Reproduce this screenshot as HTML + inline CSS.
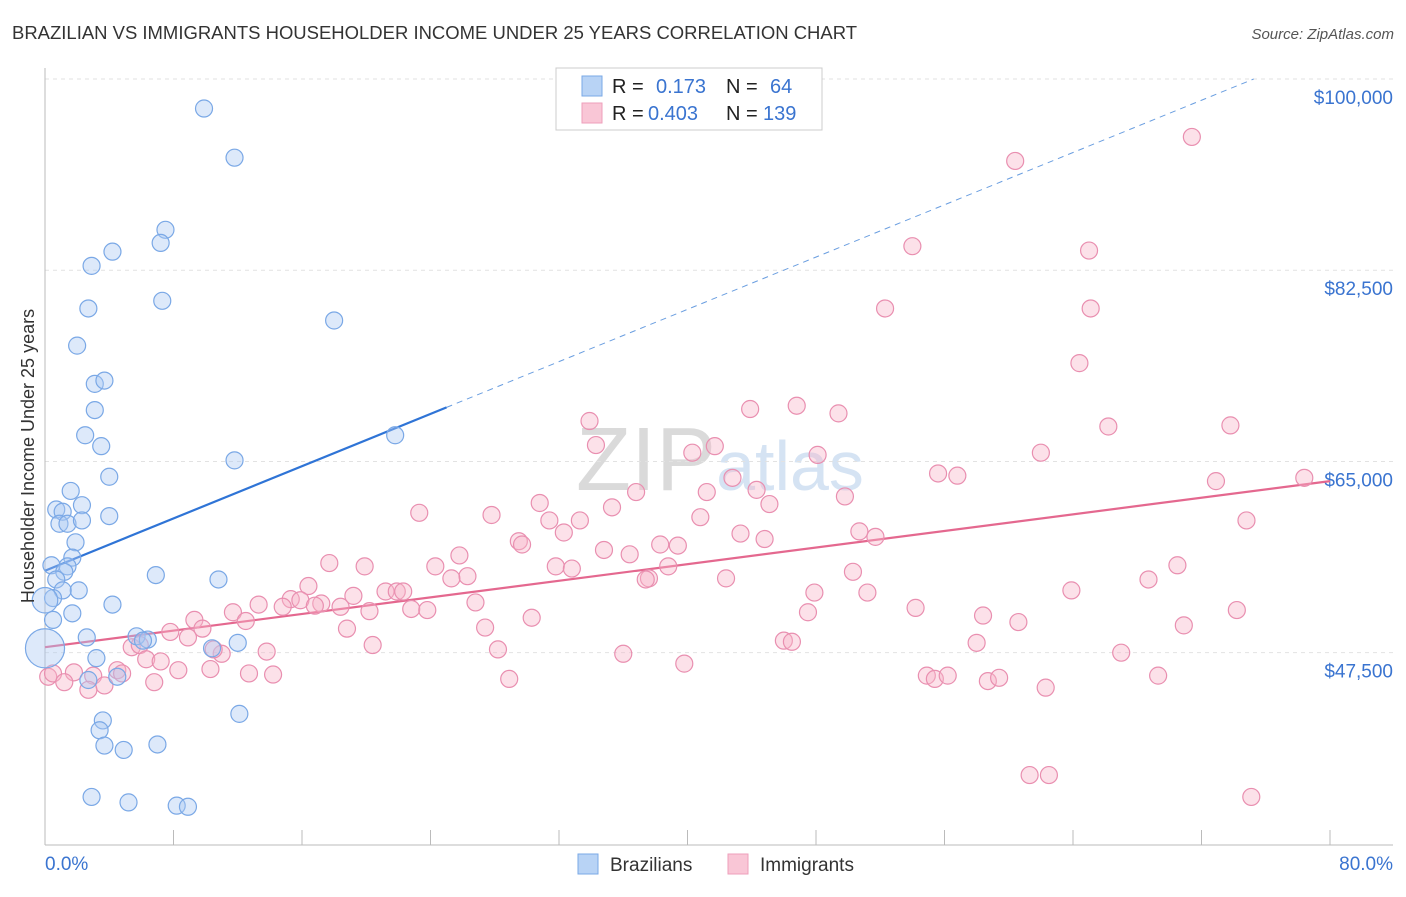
<!DOCTYPE html>
<html><head><meta charset="utf-8">
<style>
body{margin:0;background:#fff;font-family:"Liberation Sans",sans-serif;}
svg text{font-family:"Liberation Sans",sans-serif;}
</style></head>
<body>
<svg id="chart" width="1406" height="892">
<text x="12" y="39" font-size="18" fill="#333" textLength="845" lengthAdjust="spacingAndGlyphs">BRAZILIAN VS IMMIGRANTS HOUSEHOLDER INCOME UNDER 25 YEARS CORRELATION CHART</text>
<text x="1394" y="39" font-size="15" fill="#555" font-style="italic" text-anchor="end">Source: ZipAtlas.com</text>
<text x="720" y="490" font-size="90" fill="#e6e6e6" text-anchor="middle" font-family="Liberation Serif"><tspan fill="#dadada">ZIP</tspan><tspan fill="#d5e3f3" font-family="Liberation Sans" font-size="70">atlas</tspan></text>
<g id="grid"></g>
<g id="axes"></g>
<g id="trends"></g>
<g id="pts"></g>
<text transform="translate(34,456) rotate(-90)" font-size="18" fill="#333" text-anchor="middle">Householder Income Under 25 years</text>
<g>
<rect x="556" y="68" width="266" height="62" fill="#fff" stroke="#ccc"/>
<rect x="582" y="76" width="20" height="20" fill="#b8d3f5" stroke="#7aa8e6"/>
<rect x="582" y="103" width="20" height="20" fill="#f9c6d6" stroke="#ee9fbb"/>
<text x="612" y="93" font-size="20" fill="#222">R =</text><text x="656" y="93" font-size="20" fill="#3a74d0">0.173</text>
<text x="726" y="93" font-size="20" fill="#222">N =</text><text x="770" y="93" font-size="20" fill="#3a74d0">64</text>
<text x="612" y="120" font-size="20" fill="#222">R =</text><text x="648" y="120" font-size="20" fill="#3a74d0">0.403</text>
<text x="726" y="120" font-size="20" fill="#222">N =</text><text x="763" y="120" font-size="20" fill="#3a74d0">139</text>
</g>
<g>
<rect x="578" y="854" width="20" height="20" fill="#b8d3f5" stroke="#7aa8e6"/>
<text x="610" y="871" font-size="19" fill="#333">Brazilians</text>
<rect x="728" y="854" width="20" height="20" fill="#f9c6d6" stroke="#ee9fbb"/>
<text x="760" y="871" font-size="19" fill="#333">Immigrants</text>
</g>
</svg>
<script>
const yTicks=[100000,82500,65000,47500];
const yTickLabels=["$100,000","$82,500","$65,000","$47,500"];
const xTickVals=[0,8,16,24,32,40,48,56,64,72,80];
const xEndLabels=["0.0%","80.0%"];
const bluePct=[9.9,11.8,7.5,7.2,4.2,2.9,7.3,2.7,18.0,2.0,3.1,3.7,3.1,2.5,21.8,3.5,11.8,4.0,1.6,2.3,0.7,1.1,4.0,0.9,1.4,2.3,1.9,1.7,1.4,0.4,1.2,6.9,0.7,10.8,2.1,1.1,0.5,4.2,1.7,0.5,2.6,5.7,6.4,6.1,12.0,10.4,3.2,2.7,4.5,3.6,12.1,3.4,3.7,4.9,7.0,2.9,5.2,8.2,8.9,0,0];
const blueVal=[97300,92800,86200,85000,84200,82900,79700,79000,77900,75600,72100,72400,69700,67400,67400,66400,65100,63600,62300,61000,60600,60400,60000,59300,59300,59600,57600,56200,55400,55500,54900,54600,54200,54200,53200,53200,52500,51900,51100,50500,48900,49000,48700,48600,48400,47900,47000,45000,45300,41300,41900,40400,39000,38600,39100,34300,33800,33500,33400,47900,52300];
const blueSize=[1,1,1,1,1,1,1,1,1,1,1,1,1,1,1,1,1,1,1,1,1,1,1,1,1,1,1,1,1,1,1,1,1,1,1,1,1,1,1,1,1,1,1,1,1,1,1,1,1,1,1,1,1,1,1,1,1,1,1,2.3,1.5];
const pinkPct=[71.4,60.4,54.0,65.0,52.3,65.1,64.4,33.9,43.9,46.8,49.4,66.2,73.8,34.3,41.7,40.3,48.1,62.0,55.6,56.8,42.8,72.9,78.4,36.8,41.2,44.3,49.8,35.3,45.1,30.8,23.3,27.8,40.8,74.8,31.4,33.3,32.3,43.3,50.7,51.7,44.8,29.5,29.7,34.8,36.4,38.3,39.4,25.8,17.7,19.9,24.3,31.8,32.8,38.8,50.3,70.5,26.3,25.3,37.6,37.4,42.4,68.7,16.4,63.9,21.2,21.9,22.3,19.2,51.2,47.9,15.3,15.9,17.2,13.3,14.8,16.8,18.4,22.8,20.2,23.8,26.8,54.2,58.4,74.2,11.7,12.5,47.5,9.3,30.3,60.6,70.9,18.8,27.4,7.8,9.8,8.9,20.4,46.0,46.5,58.0,5.4,5.9,28.2,13.8,11.0,10.5,67.0,6.3,7.2,36.0,39.8,8.3,10.3,0.2,0.5,1.8,4.5,4.8,3.0,1.2,6.8,3.7,12.7,14.2,28.9,54.9,55.4,56.2,58.7,59.4,62.3,69.3,2.7,61.3,62.5,75.1];
const pinkVal=[94700,92500,84700,84300,79000,79000,74000,68700,69800,70100,69400,68200,68300,66500,66400,65800,65600,65800,63900,63700,63500,63200,63500,62200,62200,62400,61800,60800,61100,61200,60300,60100,59900,59600,59600,59600,58500,58400,58600,58100,57900,57700,57400,56900,56500,57400,57300,56400,55700,55400,55400,55400,55200,55400,54900,55500,54500,54300,54300,54200,54300,54200,53600,53200,53100,53100,53100,52700,53000,53000,52400,52300,52000,51900,51700,51800,51700,51500,51300,51400,52100,51600,50900,51400,51200,50400,51200,50500,50700,50300,50000,49700,49800,49400,49700,48900,48200,48600,48500,48400,48000,48200,47800,47600,47400,47800,47500,46900,46700,47400,46500,45900,46000,45300,45600,45700,45900,45600,45400,44800,44800,44500,45600,45500,45100,45400,45100,45400,44900,45200,44300,45400,44100,36300,36300,34300];
const blueTrend=[55000,598];   // intercept, slope per %
const pinkTrend=[48000,190];
const X0=45,X1=1330,YTOP=79,YBOT=845,VTOP=100000,VBOT=29900;
const xs=p=>X0+(p/80)*(X1-X0);
const ys=v=>YTOP+(VTOP-v)/(VTOP-VBOT)*(YBOT-YTOP);
const NS="http://www.w3.org/2000/svg";
function mk(tag,attrs,parent){const e=document.createElementNS(NS,tag);for(const k in attrs)e.setAttribute(k,attrs[k]);document.getElementById(parent).appendChild(e);return e;}
yTicks.forEach((v,i)=>{
  const l=mk('line',{x1:45,x2:1393,y1:ys(v),y2:ys(v),stroke:'#e2e2e2','stroke-dasharray':'4,4'},'grid');
  
  
  const t=mk('text',{x:1393,y:ys(v)+25,'font-size':19,fill:'#3a74d0','text-anchor':'end'},'grid');
  t.textContent=yTickLabels[i];
  
  
});
const ya=mk('line',{x1:45,x2:45,y1:68,y2:845,stroke:'#bbb'},'axes');


const xa=mk('line',{x1:45,x2:1393,y1:845,y2:845,stroke:'#bbb'},'axes');


xTickVals.forEach(p=>{
  const t=mk('line',{x1:xs(p),x2:xs(p),y1:830,y2:845,stroke:'#bbb'},'axes');
  
  
});
const xl0=mk('text',{x:45,y:870,'font-size':19,fill:'#3a74d0'},'axes');xl0.textContent=xEndLabels[0];


const xl1=mk('text',{x:1393,y:870,'font-size':19,fill:'#3a74d0','text-anchor':'end'},'axes');xl1.textContent=xEndLabels[1];


function drawPts(px,pv,sz,fill,stroke,name){
  px.forEach((p,i)=>{
    const r=8.5*(sz?sz[i]:1);
    const c=mk('circle',{cx:xs(p),cy:ys(pv[i]),r:r,fill:fill,'fill-opacity':0.4,stroke:stroke,'stroke-width':1.2},'pts');
    
    
  });
}
drawPts(pinkPct,pinkVal,null,'#f7b3c9','#e98fb0','immigrants-point');
drawPts(bluePct,blueVal,blueSize,'#a9c9f2','#7aa8e6','brazilians-point');
const bEnd=(VTOP-blueTrend[0])/blueTrend[1];
const b1=mk('line',{x1:xs(0),y1:ys(blueTrend[0]),x2:xs(25),y2:ys(blueTrend[0]+blueTrend[1]*25),stroke:'#2f74d6','stroke-width':2.2},'trends');


const b2=mk('line',{x1:xs(25),y1:ys(blueTrend[0]+blueTrend[1]*25),x2:xs(bEnd),y2:ys(VTOP),stroke:'#6a9ee0','stroke-width':1,'stroke-dasharray':'6,5'},'trends');


const p1=mk('line',{x1:xs(0),y1:ys(pinkTrend[0]),x2:xs(80),y2:ys(pinkTrend[0]+pinkTrend[1]*80),stroke:'#e4688f','stroke-width':2.2},'trends');


</script>
</body></html>
